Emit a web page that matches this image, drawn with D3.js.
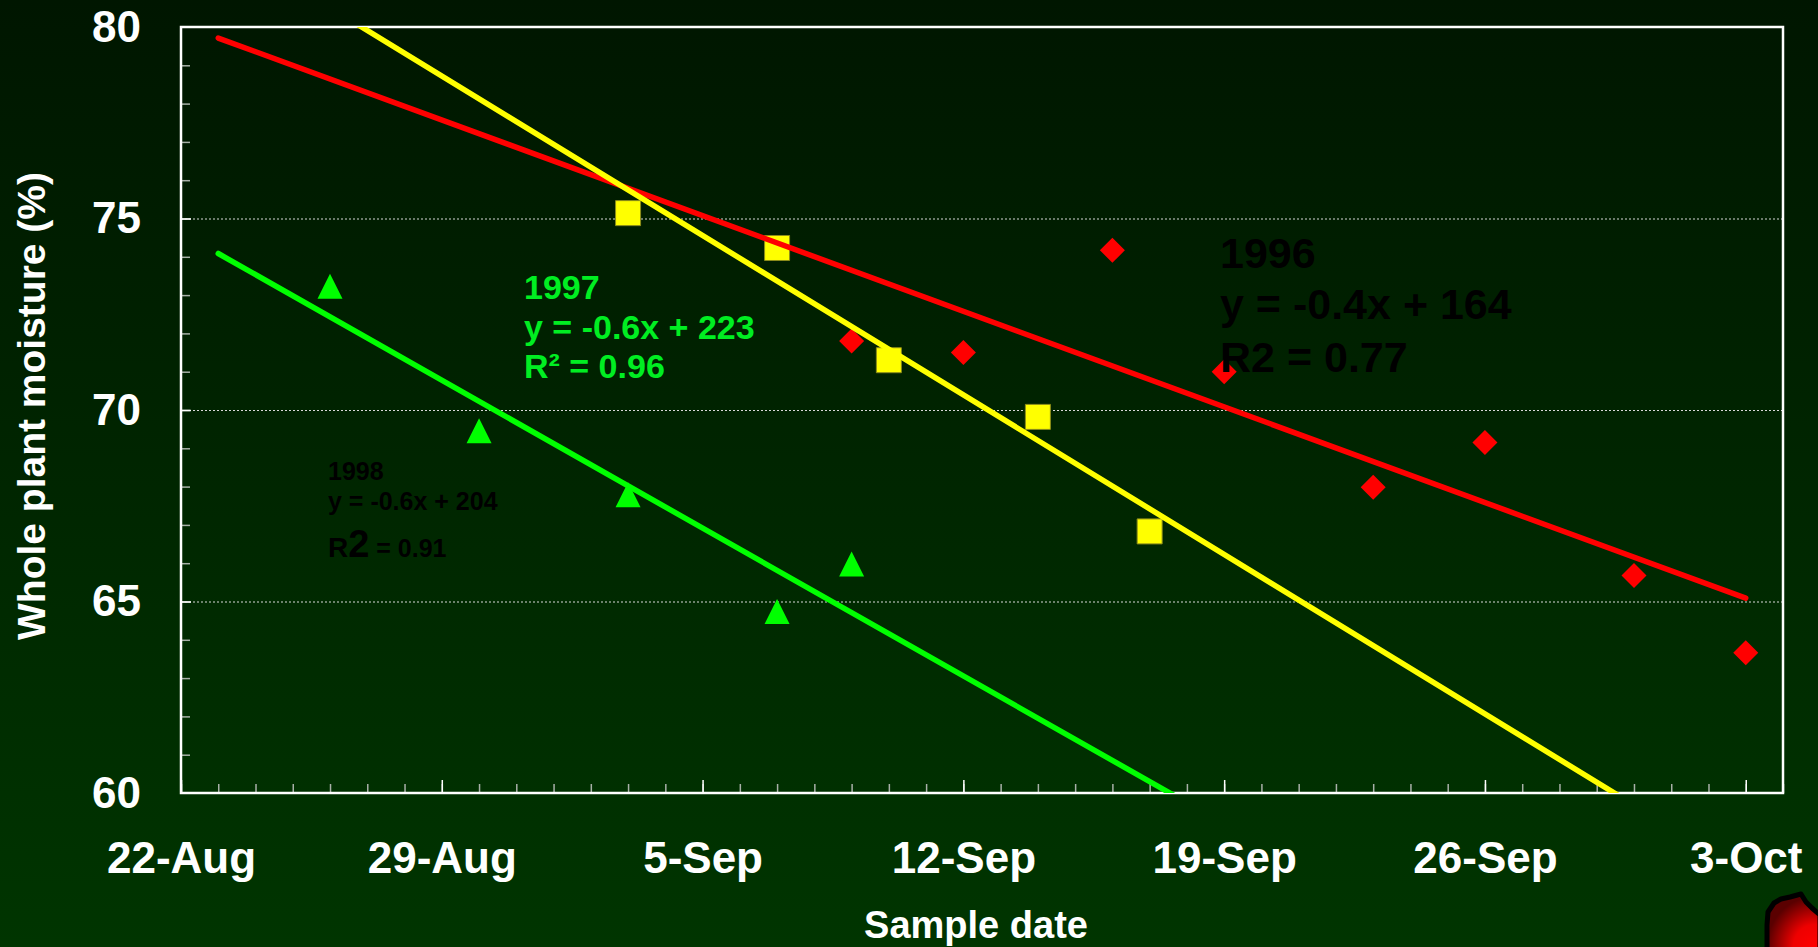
<!DOCTYPE html>
<html>
<head>
<meta charset="utf-8">
<script src="https://cdn.jsdelivr.net/npm/d3@7"></script>
<style>
  html, body { margin: 0; padding: 0; background: #002400; }
  svg { display: block; }
  text { font-family: "Liberation Sans", Arial, Helvetica, sans-serif; font-weight: bold; }
</style>
</head>
<body>
<svg id="chart" width="1818" height="947"></svg>
<script>
// ---------------- DATA ----------------
const xDomain = ["2000-08-22", "2000-10-04"];
const yDomain = [60, 80];
const yLabelTicks = [60, 65, 70, 75, 80];
const yGridTicks = [65, 70, 75];
const xLabelTicks = ["2000-08-22", "2000-08-29", "2000-09-05", "2000-09-12", "2000-09-19", "2000-09-26", "2000-10-03"];
const xTickLabels = ["22-Aug", "29-Aug", "5-Sep", "12-Sep", "19-Sep", "26-Sep", "3-Oct"];

// 1996 (red diamonds)
const dates1996 = ["2000-09-09", "2000-09-12", "2000-09-16", "2000-09-19", "2000-09-23", "2000-09-26", "2000-09-30", "2000-10-03"];
const values1996 = [71.8, 71.5, 74.17, 71.0, 67.98, 69.15, 65.68, 63.66];
// 1997 (yellow squares)
const dates1997 = ["2000-09-03", "2000-09-07", "2000-09-10", "2000-09-14", "2000-09-17"];
const values1997 = [75.14, 74.23, 71.3, 69.82, 66.83];
// 1998 (green triangles)
const dates1998 = ["2000-08-26", "2000-08-30", "2000-09-03", "2000-09-07", "2000-09-09"];
const values1998 = [73.23, 69.46, 67.79, 64.74, 65.98];

// trend line extent (dates)
const trendExtent = ["2000-08-23", "2000-10-03"];

// annotation texts
const text1996 = ["1996", "y = -0.4x + 164", "R2 = 0.77"];
const text1997 = ["1997", "y = -0.6x + 223", "R\u00B2 = 0.96"];
const text1998 = ["1998", "y = -0.6x + 204"];
const text1998r2 = ["R", "2", " = 0.91"];

const yTitle = "Whole plant moisture (%)";
const xTitle = "Sample date";

// ---------------- LAYOUT ----------------
const W = 1818, H = 947;
const plot = { left: 181, right: 1783, top: 27, bottom: 793 };
const parse = d3.utcParse("%Y-%m-%d");

const svg = d3.select("#chart");
const defs = svg.append("defs");

const bg = defs.append("linearGradient").attr("id", "bg").attr("x1", 0).attr("y1", 0).attr("x2", 0).attr("y2", 1);
bg.append("stop").attr("offset", "0%").attr("stop-color", "#001600");
bg.append("stop").attr("offset", "100%").attr("stop-color", "#003500");
svg.append("rect").attr("width", W).attr("height", H).attr("fill", "url(#bg)");

defs.append("clipPath").attr("id", "plotclip").append("rect")
  .attr("x", plot.left).attr("y", plot.top)
  .attr("width", plot.right - plot.left).attr("height", plot.bottom - plot.top);

const x = d3.scaleUtc().domain(xDomain.map(parse)).range([plot.left, plot.right]);
const y = d3.scaleLinear().domain(yDomain).range([plot.bottom, plot.top]);

// grid lines
const grid = svg.append("g").attr("transform", `translate(${plot.left},0)`)
  .call(d3.axisRight(y).tickValues(yGridTicks).tickSize(plot.right - plot.left).tickFormat(""));
grid.select(".domain").remove();
grid.selectAll("line").attr("stroke", "#d8d8d8").attr("stroke-width", 1).attr("stroke-dasharray", "2,2");

// y minor ticks (inside)
const yMinor = svg.append("g").attr("transform", `translate(${plot.left},0)`)
  .call(d3.axisRight(y).tickValues(d3.range(61, 80)).tickSize(9).tickFormat(""));
yMinor.select(".domain").remove();
yMinor.selectAll("line").attr("stroke", "#a8b0a8").attr("stroke-width", 1.5);

// y major ticks
const yMajor = svg.append("g").attr("transform", `translate(${plot.left},0)`)
  .call(d3.axisRight(y).tickValues(yGridTicks).tickSize(10).tickFormat(""));
yMajor.select(".domain").remove();
yMajor.selectAll("line").attr("stroke", "#ffffff").attr("stroke-width", 1.5);

// y labels
const yLab = svg.append("g").attr("transform", `translate(${plot.left},0)`)
  .call(d3.axisLeft(y).tickValues(yLabelTicks).tickSize(0).tickPadding(40).tickFormat(d3.format("d")));
yLab.select(".domain").remove();
yLab.selectAll("text").attr("fill", "#ffffff").attr("font-size", 44)
  .attr("font-family", '"Liberation Sans", Arial, sans-serif').attr("font-weight", "bold");

// x minor ticks (inside)
const xMinor = svg.append("g").attr("transform", `translate(0,${plot.bottom})`)
  .call(d3.axisTop(x).ticks(d3.utcDay.every(1)).tickSize(9).tickFormat(""));
xMinor.select(".domain").remove();
xMinor.selectAll("line").attr("stroke", "#a8b0a8").attr("stroke-width", 1.5);

// x major ticks
const xMajor = svg.append("g").attr("transform", `translate(0,${plot.bottom})`)
  .call(d3.axisTop(x).tickValues(xLabelTicks.map(parse)).tickSize(13).tickFormat(""));
xMajor.select(".domain").remove();
xMajor.selectAll("line").attr("stroke", "#ffffff").attr("stroke-width", 1.5);

// x labels
const xLab = svg.append("g").attr("transform", `translate(0,${plot.bottom})`)
  .call(d3.axisBottom(x).tickValues(xLabelTicks.map(parse)).tickSize(0).tickPadding(49)
    .tickFormat((d, i) => xTickLabels[i]));
xLab.select(".domain").remove();
xLab.selectAll("text").attr("fill", "#ffffff").attr("font-size", 44)
  .attr("font-family", '"Liberation Sans", Arial, sans-serif').attr("font-weight", "bold");

// frame
svg.append("rect")
  .attr("x", plot.left).attr("y", plot.top)
  .attr("width", plot.right - plot.left).attr("height", plot.bottom - plot.top)
  .attr("fill", "none").attr("stroke", "#ffffff").attr("stroke-width", 2.5);

// ---------------- SERIES ----------------
const toPoints = (ds, vs) => ds.map((d, i) => ({ date: parse(d), value: vs[i] }));
const s1996 = toPoints(dates1996, values1996);
const s1997 = toPoints(dates1997, values1997);
const s1998 = toPoints(dates1998, values1998);

// custom marker shapes (size = bounding box side)
const diamondType = { draw(ctx, s) { const h = s / 2; ctx.moveTo(0, -h); ctx.lineTo(h, 0); ctx.lineTo(0, h); ctx.lineTo(-h, 0); ctx.closePath(); } };
const squareType = { draw(ctx, s) { const h = s / 2; ctx.rect(-h, -h, s, s); } };
const triangleType = { draw(ctx, s) { const h = s / 2; ctx.moveTo(0, -h); ctx.lineTo(h, h); ctx.lineTo(-h, h); ctx.closePath(); } };

function drawMarkers(data, type, size, fill, stroke) {
  svg.append("g").selectAll("path").data(data).join("path")
    .attr("transform", d => `translate(${x(d.date)},${y(d.value)})`)
    .attr("d", d3.symbol().type(type).size(size))
    .attr("fill", fill)
    .attr("stroke", stroke || "none")
    .attr("stroke-width", stroke ? 1 : 0);
}
drawMarkers(s1996, diamondType, 25, "#ff0000");
drawMarkers(s1997, squareType, 25, "#ffff00", "#8c8c1a");
drawMarkers(s1998, triangleType, 25, "#00ff00");

// least-squares trend lines (days as x)
function trend(data) {
  const t0 = parse(xDomain[0]);
  const xs = data.map(d => d3.utcDay.count(t0, d.date));
  const ys = data.map(d => d.value);
  const mx = d3.mean(xs), my = d3.mean(ys);
  const sxy = d3.sum(xs, (v, i) => (v - mx) * (ys[i] - my));
  const sxx = d3.sum(xs, v => (v - mx) * (v - mx));
  const b = sxy / sxx, a = my - b * mx;
  return trendExtent.map(s => { const dt = parse(s); return { date: dt, value: a + b * d3.utcDay.count(t0, dt) }; });
}
const line = d3.line().x(d => x(d.date)).y(d => y(d.value));
const lines = svg.append("g").attr("clip-path", "url(#plotclip)");
[[s1996, "#ff0000"], [s1997, "#ffff00"], [s1998, "#00ff00"]].forEach(([s, c]) => {
  lines.append("path").datum(trend(s)).attr("d", line)
    .attr("fill", "none").attr("stroke", c).attr("stroke-width", 5.5).attr("stroke-linecap", "round");
});

// ---------------- ANNOTATIONS ----------------
function block(lines, x0, baselines, size, color) {
  const g = svg.append("g");
  lines.forEach((t, i) => {
    g.append("text").attr("x", x0).attr("y", baselines[i]).attr("font-size", size).attr("fill", color).text(t);
  });
}
block(text1996, 1220, [268, 319, 372], 43, "#000000");
block(text1997, 524, [299, 339, 378], 34, "#00ee22");
block(text1998, 328, [480, 510], 25, "#000000");
const r2 = svg.append("text").attr("x", 328).attr("y", 557).attr("fill", "#000000");
r2.append("tspan").attr("font-size", 28).text(text1998r2[0]);
r2.append("tspan").attr("font-size", 38).text(text1998r2[1]);
r2.append("tspan").attr("font-size", 25).text(text1998r2[2]);

// axis titles
svg.append("text").attr("transform", `translate(45,406) rotate(-90)`)
  .attr("text-anchor", "middle").attr("font-size", 39).attr("fill", "#ffffff").text(yTitle);
svg.append("text").attr("x", 976).attr("y", 938)
  .attr("text-anchor", "middle").attr("font-size", 38).attr("fill", "#ffffff").text(xTitle);

// decorative red blob, bottom-right corner
const rg = defs.append("radialGradient").attr("id", "blob").attr("cx", "90%").attr("cy", "95%").attr("r", "90%");
rg.append("stop").attr("offset", "0%").attr("stop-color", "#ff0000");
rg.append("stop").attr("offset", "45%").attr("stop-color", "#ee0000");
rg.append("stop").attr("offset", "100%").attr("stop-color", "#5a0000");
svg.append("path")
  .attr("d", "M1767,925 L1768,912 L1774,903 L1781,899 L1790,897 L1801,894 L1806,902 L1812,908 L1820,915 L1820,950 L1767,950 Z")
  .attr("fill", "url(#blob)").attr("stroke", "#000000").attr("stroke-width", 5).attr("stroke-linejoin", "round");
</script>
</body>
</html>
